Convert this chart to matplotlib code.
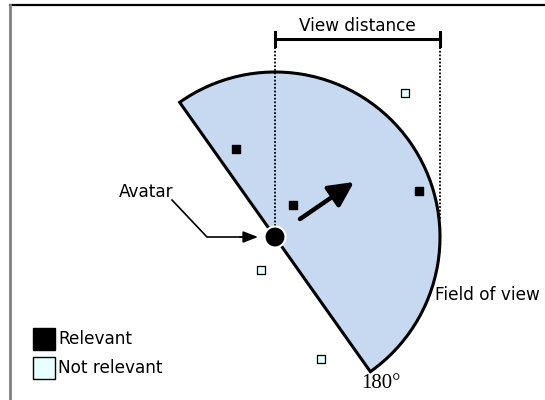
import matplotlib
matplotlib.use("Agg")
import matplotlib.pyplot as plt
from matplotlib.patches import Wedge, Circle, Rectangle

# diagram geometry in pixel units (y grows downward)
avatar_xy = (275, 237)
view_radius = 165
fov_angles = (-125.3, 54.7)
heading_start = (300, 219)
heading_end = (354, 182)

relevant_x = [236, 293, 419]
relevant_y = [149, 205, 191]
irrelevant_x = [405, 261, 321]
irrelevant_y = [93, 270, 359]

legend_labels = ["Relevant", "Not relevant"]
legend_colors = ["#000000", "#e8ffff"]

FOV_COLOR = "#c6d9f1"
FONT = "DejaVu Sans"

fig = plt.figure(figsize=(5.45, 4.0), dpi=100)
ax = fig.add_axes([0, 0, 1, 1])
ax.set_xlim(0, 545)
ax.set_ylim(400, 0)
ax.set_aspect("equal")
ax.axis("off")

# frame
ax.plot([9.5, 545], [5, 5], color="black", lw=1.6)
ax.plot([9.5, 9.5], [5, 400], color="#808080", lw=2)

# field of view wedge
ax.add_patch(Wedge(avatar_xy, view_radius, *fov_angles, facecolor=FOV_COLOR,
                   edgecolor="black", lw=2.2, zorder=2))

# view distance guides
cx, cy = avatar_xy
ax.plot([cx, cx], [40, cy], ls=(0, (1, 1)), color="black", lw=1.3, zorder=3)
ax.plot([cx + view_radius] * 2, [40, cy - 18], ls=(0, (1, 1)), color="black",
        lw=1.3, zorder=3)
ax.plot([cx, cx + view_radius], [39, 39], color="black", lw=2.2)
for xe in (cx, cx + view_radius):
    ax.plot([xe, xe], [32, 46], color="black", lw=2.2)
ax.text(cx + view_radius / 2, 26, "View distance", ha="center", va="center",
        fontsize=12.2, family=FONT)

# points
ax.scatter(relevant_x, relevant_y, marker="s", s=40, color="black", zorder=4)
ax.scatter(irrelevant_x, irrelevant_y, marker="s", s=28, facecolor="#e8ffff",
           edgecolor="black", lw=0.9, zorder=4)

# heading arrow
ax.annotate("", xy=heading_end, xytext=heading_start,
            arrowprops=dict(arrowstyle="-|>,head_length=1.5,head_width=0.75",
                            color="black", lw=3.2, shrinkA=0, shrinkB=0),
            zorder=5)

# avatar
ax.add_patch(Circle(avatar_xy, 10.5, facecolor="black", edgecolor="white",
                    lw=1.5, zorder=6))

# avatar label with leader
ax.text(173, 192, "Avatar", ha="right", va="center", fontsize=12.2,
        family=FONT)
ax.plot([172, 207, 245], [200, 237, 237], color="black", lw=1.2)
ax.annotate("", xy=(258, 237), xytext=(240, 237),
            arrowprops=dict(arrowstyle="-|>,head_length=0.9,head_width=0.35",
                            color="black", lw=1.2, shrinkA=0, shrinkB=0))

ax.text(435, 295, "Field of view", ha="left", va="center", fontsize=12.2,
        family=FONT)
ax.text(381, 384, "180°", ha="center", va="center", fontsize=15,
        family="Liberation Serif")

# legend
for i, (lab, col) in enumerate(zip(legend_labels, legend_colors)):
    y0 = 328 + i * 29
    ax.add_patch(Rectangle((33, y0), 22, 22, facecolor=col, edgecolor="black",
                           lw=1))
    ax.text(58, y0 + 11, lab, ha="left", va="center", fontsize=12.2,
            family=FONT)

fig.savefig("out.png", dpi=100)
